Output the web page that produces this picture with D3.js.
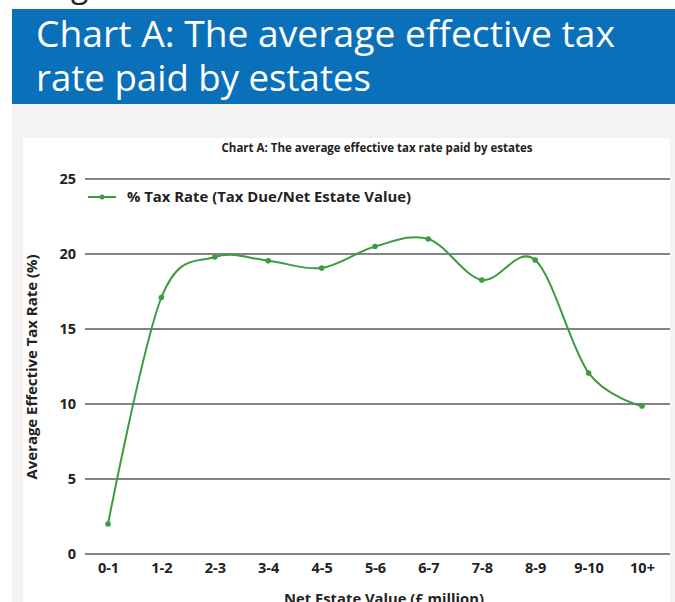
<!DOCTYPE html>
<html>
<head>
<meta charset="utf-8">
<script src="https://cdn.jsdelivr.net/npm/d3@7"></script>
<style>
  html, body { margin: 0; padding: 0; background: #fff; }
  svg { display: block; }
</style>
</head>
<body>
<svg id="chart" width="675" height="602"></svg>
<script>
// ── data ─────────────────────────────────────────
const categories = ["0-1", "1-2", "2-3", "3-4", "4-5", "5-6", "6-7", "7-8", "8-9", "9-10", "10+"];
const taxRate = [2.0, 17.1, 19.8, 19.55, 19.07, 20.5, 21.0, 18.27, 19.6, 12.07, 9.87];
const yTicks = [0, 5, 10, 15, 20, 25];

const seriesName = "% Tax Rate (Tax Due/Net Estate Value)";
const bannerLines = ["Chart A: The average effective tax", "rate paid by estates"];
const chartTitle = "Chart A: The average effective tax rate paid by estates";
const xTitle = "Net Estate Value (£ million)";
const yTitle = "Average Effective Tax Rate (%)";

const GREEN = "#3d9b41";
const BLUE = "#0b70ba";
const FONT = "'Open Sans', 'Noto Sans', sans-serif";

const svg = d3.select("#chart");

// page scraps + banner
svg.append("text")
    .attr("x", 34).attr("y", -3)
    .attr("font-family", FONT).attr("font-size", 32)
    .attr("fill", "#222")
    .text("Page");

svg.append("rect")
    .attr("x", 12).attr("y", 9)
    .attr("width", 663).attr("height", 95)
    .attr("fill", BLUE);

svg.append("rect")
    .attr("x", 12).attr("y", 104)
    .attr("width", 663).attr("height", 498)
    .attr("fill", "#f4f3f1");

svg.append("rect")
    .attr("x", 23).attr("y", 138)
    .attr("width", 647).attr("height", 464)
    .attr("fill", "#fff");

const bannerWidths = [579, 335];
bannerLines.forEach((t, i) => {
    svg.append("text")
        .attr("x", 36).attr("y", 47 + i * 44)
        .attr("font-family", FONT).attr("font-size", 36)
        .attr("fill", "#fff")
        .attr("textLength", bannerWidths[i])
        .attr("lengthAdjust", "spacingAndGlyphs")
        .text(t);
});

// ── scales ───────────────────────────────────────
const x = d3.scalePoint().domain(categories).range([108, 642]);
const y = d3.scaleLinear().domain([0, 25]).range([554, 179]);
const gridLeft = 85, gridRight = 670;

// gridlines
svg.append("g")
    .selectAll("line")
    .data(yTicks)
    .join("line")
    .attr("x1", gridLeft).attr("x2", gridRight)
    .attr("y1", d => y(d)).attr("y2", d => y(d))
    .attr("stroke", "#5a5a5a")
    .attr("stroke-width", 1.3);

// y axis labels
const yAxis = svg.append("g")
    .attr("transform", `translate(${gridLeft},0)`)
    .call(d3.axisLeft(y).tickValues(yTicks).tickSize(0).tickPadding(9));
yAxis.select(".domain").remove();
yAxis.selectAll("text")
    .attr("font-family", FONT).attr("font-size", 14.5).attr("font-weight", 700)
    .attr("fill", "#222");

// x axis labels
const xAxis = svg.append("g")
    .attr("transform", `translate(0,${y(0)})`)
    .call(d3.axisBottom(x).tickSize(0).tickPadding(9));
xAxis.select(".domain").remove();
xAxis.selectAll("text")
    .attr("font-family", FONT).attr("font-size", 14.5).attr("font-weight", 700)
    .attr("fill", "#222");

// titles
svg.append("text")
    .attr("x", 377).attr("y", 152)
    .attr("text-anchor", "middle")
    .attr("font-family", FONT).attr("font-size", 12.5).attr("font-weight", 700)
    .attr("fill", "#222")
    .attr("textLength", 311).attr("lengthAdjust", "spacingAndGlyphs")
    .text(chartTitle);

svg.append("text")
    .attr("x", 384).attr("y", 604)
    .attr("text-anchor", "middle")
    .attr("font-family", FONT).attr("font-size", 15).attr("font-weight", 700)
    .attr("fill", "#222")
    .attr("textLength", 200).attr("lengthAdjust", "spacingAndGlyphs")
    .text(xTitle);

svg.append("text")
    .attr("transform", "translate(37,367) rotate(-90)")
    .attr("text-anchor", "middle")
    .attr("font-family", FONT).attr("font-size", 13.5).attr("font-weight", 700)
    .attr("fill", "#222")
    .attr("textLength", 225).attr("lengthAdjust", "spacingAndGlyphs")
    .text(yTitle);

// legend
const lg = svg.append("g").attr("transform", "translate(88,197)");
lg.append("line").attr("x1", 0).attr("x2", 28)
    .attr("stroke", GREEN).attr("stroke-width", 2);
lg.append("circle").attr("cx", 14).attr("r", 2.5).attr("fill", GREEN);
lg.append("text")
    .attr("x", 39).attr("y", 5)
    .attr("font-family", FONT).attr("font-size", 15).attr("font-weight", 700)
    .attr("fill", "#222")
    .attr("textLength", 284).attr("lengthAdjust", "spacingAndGlyphs")
    .text(seriesName);

// ── series ───────────────────────────────────────
const pts = categories.map((c, i) => ({ c, v: taxRate[i] }));

svg.append("path")
    .datum(pts)
    .attr("fill", "none")
    .attr("stroke", GREEN)
    .attr("stroke-width", 2)
    .attr("d", d3.line()
        .x(d => x(d.c))
        .y(d => y(d.v))
        .curve(d3.curveCardinal.tension(0)));

svg.append("g")
    .selectAll("circle")
    .data(pts)
    .join("circle")
    .attr("cx", d => x(d.c))
    .attr("cy", d => y(d.v))
    .attr("r", 2.8)
    .attr("fill", GREEN);
</script>
</body>
</html>
